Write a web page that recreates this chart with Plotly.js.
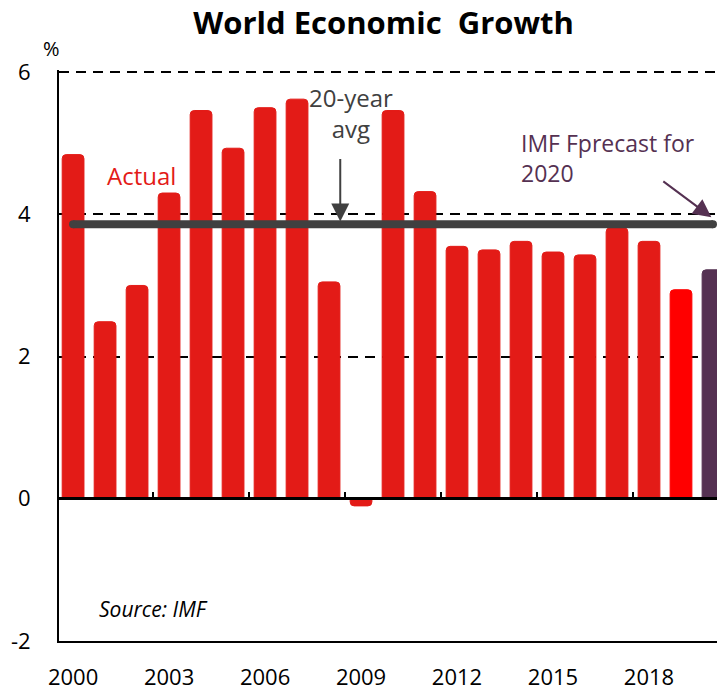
<!DOCTYPE html>
<html>
<head>
<meta charset="utf-8">
<script src="https://cdn.plot.ly/plotly-3.0.1.min.js"></script>
<style>
  html, body { margin: 0; padding: 0; background: #fff; overflow: hidden; }
  #chart { width: 717px; height: 693px; }
</style>
</head>
<body>
<div id="chart"></div>
<script>
// ---- Data ----
const years = [2000, 2001, 2002, 2003, 2004, 2005, 2006, 2007, 2008, 2009,
               2010, 2011, 2012, 2013, 2014, 2015, 2016, 2017, 2018, 2019, 2020];
const growth = [4.84, 2.49, 3.0, 4.3, 5.46, 4.93, 5.5, 5.62, 3.05, -0.1,
                5.46, 4.32, 3.55, 3.5, 3.62, 3.47, 3.43, 3.81, 3.62, 2.94, 3.22];
const barColors = ["#E31B17","#E31B17","#E31B17","#E31B17","#E31B17","#E31B17","#E31B17",
                   "#E31B17","#E31B17","#E31B17","#E31B17","#E31B17","#E31B17","#E31B17",
                   "#E31B17","#E31B17","#E31B17","#E31B17","#E31B17","#FF0000","#553152"];
const avgYears = [2000, 2020];
const avgValue = [3.86, 3.86];
const xTickVals = [2000, 2003, 2006, 2009, 2012, 2015, 2018];
const xTickText = ["2000", "2003", "2006", "2009", "2012", "2015", "2018"];
const sepTicks = [2002.5, 2005.5, 2008.5, 2011.5, 2014.5, 2017.5];
const yTickVals = [-2, 0, 2, 4, 6];
const yTickText = ["-2", "0", "2", "4", "6"];

const FONT = "'Open Sans', 'Noto Sans', sans-serif";
const xRange = [1999.56, 2020.125];

const traces = [
  {
    type: "bar", x: years, y: growth,
    marker: { color: barColors, line: { color: barColors, width: 1 }, cornerradius: 4 },
    width: 0.68, hoverinfo: "x+y"
  },
  {
    type: "scatter", mode: "lines+markers", x: avgYears, y: avgValue,
    xaxis: "x2", yaxis: "y",
    line: { color: "#404040", width: 8 },
    marker: { color: "#404040", size: 8 },
    hoverinfo: "y"
  }
];

const layout = {
  width: 717, height: 693,
  margin: { l: 59, r: 0, t: 70, b: 52 },
  paper_bgcolor: "#fff", plot_bgcolor: "#fff",
  showlegend: false,
  font: { family: FONT, color: "#000" },
  title: {
    text: "<b>World Economic  Growth</b>",
    x: 0.535, xanchor: "center", y: 0.967, yanchor: "middle",
    font: { family: FONT, size: 31, color: "#000" }
  },
  xaxis: {
    range: xRange, showgrid: false, zeroline: false,
    tickvals: xTickVals, ticktext: xTickText, ticks: "",
    tickfont: { family: FONT, size: 22, color: "#000" },
    ticklabelstandoff: 16,
    showline: true, linecolor: "#000", linewidth: 2
  },
  xaxis2: {
    range: xRange, overlaying: "x", anchor: "free", position: 0.2497,
    showgrid: false, zeroline: false, showticklabels: false,
    tickvals: sepTicks, ticks: "inside", ticklen: 5, tickwidth: 2, tickcolor: "#000",
    showline: true, linecolor: "#000", linewidth: 2, layer: "above traces"
  },
  yaxis: {
    range: [-2, 6.03], tickvals: yTickVals, ticktext: yTickText, ticks: "",
    tickfont: { family: FONT, size: 22, color: "#000" },
    ticklabelstandoff: 22,
    showgrid: true, gridcolor: "#000", gridwidth: 2, griddash: "10px,7px",
    zeroline: true, zerolinecolor: "#000", zerolinewidth: 2, zerolinelayer: "above traces",
    showline: true, linecolor: "#000", linewidth: 2
  },
  annotations: [
    { text: "%", xref: "paper", yref: "paper", x: -0.012, y: 1.037, xanchor: "center", yanchor: "middle",
      showarrow: false, font: { family: FONT, size: 20, color: "#000" } },
    { text: "Actual", xref: "x", yref: "y", x: 2002.15, y: 4.55, xanchor: "center", yanchor: "middle",
      showarrow: false, font: { family: FONT, size: 24, color: "#E31B17" } },
    { text: "20-year<br>avg", xref: "x", yref: "y", x: 2008.7, y: 5.43, xanchor: "center", yanchor: "middle",
      showarrow: false, font: { family: FONT, size: 24, color: "#404040" } },
    { text: "", xref: "x", yref: "y", x: 2008.35, y: 3.9, ax: 2008.35, ay: 4.8, axref: "x", ayref: "y",
      showarrow: true, arrowhead: 2, arrowsize: 1.8, arrowwidth: 2, arrowcolor: "#404040" },
    { text: "IMF Fprecast for<br>2020", xref: "x", yref: "y", x: 2013.95, y: 4.79, xanchor: "left", yanchor: "middle",
      align: "left", showarrow: false, font: { family: FONT, size: 23, color: "#553152" } },
    { text: "", xref: "x", yref: "y", x: 2019.95, y: 3.96, ax: 2018.4, ay: 4.48, axref: "x", ayref: "y",
      showarrow: true, arrowhead: 2, arrowsize: 1.8, arrowwidth: 2, arrowcolor: "#553152" },
    { text: "<i>Source: IMF</i>", xref: "x", yref: "y", x: 2000.75, y: -1.55, xanchor: "left", yanchor: "middle",
      showarrow: false, font: { family: FONT, size: 21, color: "#000" } }
  ]
};

Plotly.newPlot("chart", traces, layout, { displayModeBar: false, staticPlot: true });
</script>
</body>
</html>
